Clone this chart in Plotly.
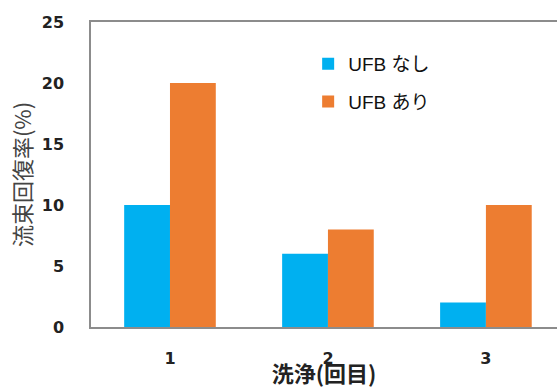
import plotly.graph_objects as go

# Cleaning rounds and flux recovery rates (%)
rounds = [1, 2, 3]
without_ufb = [10, 6, 2]
with_ufb = [20, 8, 10]
series_names = ["UFB なし", "UFB あり"]
y_ticks = [0, 5, 10, 15, 20, 25]

blue = "#00B0F0"
orange = "#ED7D31"

fig = go.Figure()
fig.add_trace(go.Bar(x=rounds, y=without_ufb, name=series_names[0],
                     marker=dict(color=blue, line=dict(width=0)), legendgroup="a"))
fig.add_trace(go.Bar(x=rounds, y=with_ufb, name=series_names[1],
                     marker=dict(color=orange, line=dict(width=0)), legendgroup="b"))

tick_font = dict(family="DejaVu Sans", size=16, color="#222222")
cjk = "Noto Sans CJK JP"
mixed = "Liberation Sans, Noto Sans CJK JP"

fig.update_layout(
    width=557, height=388,
    margin=dict(l=91, r=0, t=22, b=61),
    paper_bgcolor="white", plot_bgcolor="white",
    barmode="group", bargap=0.42, bargroupgap=0,
    showlegend=True,
    legend=dict(x=0.466, y=0.925, xanchor="left", yanchor="top",
                bgcolor="rgba(0,0,0,0)", tracegroupgap=10,
                font=dict(family=mixed, size=19, color="#111111"),
                itemwidth=30),
    xaxis=dict(
        range=[0.5, 3.45], tickvals=rounds, ticktext=[f"<b>{r}</b>" for r in rounds],
        tickfont=tick_font, ticks="", ticklabelstandoff=16,
        showline=True, linecolor="#8c8c8c", linewidth=1.5, mirror=True,
        showgrid=False, zeroline=False,
        title=dict(text="<b>洗浄(回目)</b>", font=dict(family=cjk, size=22, color="#222222"),
                   standoff=0),
    ),
    yaxis=dict(
        range=[0, 25], tickvals=y_ticks, ticktext=[f"<b>{t}</b>" for t in y_ticks],
        tickfont=tick_font, ticks="", ticklabelstandoff=22,
        showline=True, linecolor="#8c8c8c", linewidth=1.5, mirror=False,
        showgrid=False, zeroline=False,
        title=dict(text="流束回復率(%)", font=dict(family=cjk, size=22, color="#444444"),
                   standoff=4),
    ),
)

fig.write_html("out.html")
